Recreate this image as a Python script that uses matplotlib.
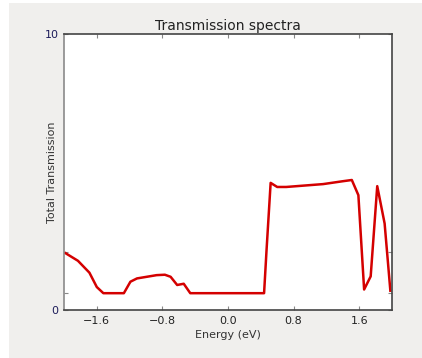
import matplotlib.pyplot as plt
from matplotlib.patches import Rectangle

# Energy (eV) and total transmission
energy = [-1.985, -1.83, -1.69, -1.60, -1.52, -1.27, -1.19, -1.11, -0.87, -0.77,
          -0.70, -0.62, -0.54, -0.46, 0.44, 0.47, 0.52, 0.60, 0.71, 1.16,
          1.40, 1.51, 1.59, 1.66, 1.74, 1.82, 1.91, 1.98]
transmission = [0.98, 0.79, 0.50, 0.15, 0.0, 0.0, 0.28, 0.36, 0.44, 0.45,
                0.40, 0.20, 0.23, 0.0, 0.0, 1.05, 2.69, 2.59, 2.59, 2.66,
                2.73, 2.76, 2.39, 0.09, 0.41, 2.61, 1.70, 0.06]
x_ticks = [-1.6, -0.8, 0.0, 0.8, 1.6]
y_lim = (-0.41, 6.32)
y_ticks = [y_lim[0], 0, 1, y_lim[1]]
y_labels = ['0', '', '', '10']

fig = plt.figure(figsize=(4.22, 3.58), dpi=100, facecolor='white')
# grey panel behind the axes
fig.patches.append(Rectangle((9 / 422, 0), 1, 355 / 358, transform=fig.transFigure,
                             facecolor='#f0efed', edgecolor='none', zorder=-1))

ax = fig.add_axes([64 / 422, 48 / 358, 328 / 422, 276 / 358])
ax.plot(energy, transmission, color='#d40000', linewidth=1.8)

ax.set_xlim(-2.0, 2.0)
ax.set_ylim(*y_lim)
ax.set_xticks(x_ticks)
ax.set_xticklabels(['\u22121.6', '\u22120.8', '0.0', '0.8', '1.6'])
ax.set_yticks(y_ticks)
ax.set_yticklabels(y_labels, color='#1c1c5a')
ax.tick_params(direction='in', length=3, labelsize=8, top=True, right=True,
               color='#888888', pad=4)
ax.tick_params(axis='x', labelcolor='#222222')

for s in ax.spines.values():
    s.set_color('#444444')
    s.set_linewidth(1.2)
ax.spines['left'].set_color('#8a8a8a')

ax.set_title('Transmission spectra', fontsize=10, color='#222222', pad=3)
ax.set_xlabel('Energy (eV)', fontsize=8, color='#333333', labelpad=3)
ax.set_ylabel('Total Transmission', fontsize=8, color='#333333')
ax.yaxis.set_label_coords(-0.021, 0.5)

fig.savefig('out.png', dpi=100, facecolor=fig.get_facecolor())
plt.close()
